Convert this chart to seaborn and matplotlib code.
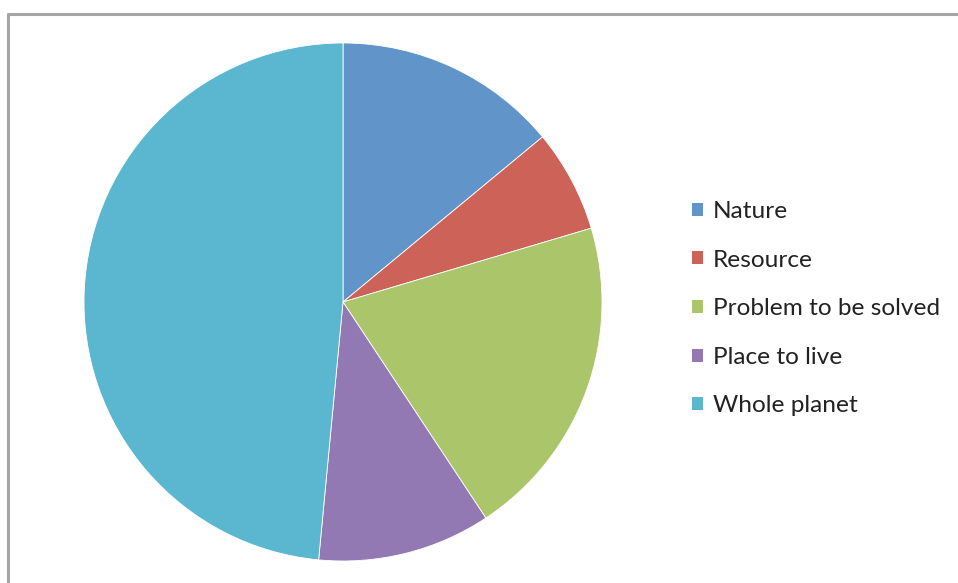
import matplotlib
matplotlib.use("Agg")
import matplotlib.pyplot as plt
import seaborn as sns
from matplotlib.patches import Patch
from matplotlib.lines import Line2D

categories = ["Nature", "Resource", "Problem to be solved", "Place to live", "Whole planet"]
values = [14.0, 6.4, 20.3, 10.8, 48.5]
colors = ["#6195CA", "#CD6259", "#ABC56A", "#9379B3", "#5BB7CF"]

sns.set_theme(style="white")
plt.rcParams['font.family'] = ['Lato', 'DejaVu Sans']

W, H = 958, 583
fig = plt.figure(figsize=(W / 100, H / 100), dpi=100)
fig.patch.set_facecolor("white")

cx, cy, r = 343, 302, 259
ax = fig.add_axes([(cx - r) / W, (H - cy - r) / H, 2 * r / W, 2 * r / H])
ax.pie(values, colors=colors, startangle=90, counterclock=False,
       wedgeprops=dict(edgecolor="white", linewidth=0.6))
ax.set_xlim(-1, 1)
ax.set_ylim(-1, 1)
ax.set_aspect("equal")
ax.axis("off")

# chart border (top and left visible)
fig.add_artist(Line2D([8 / W, 1.0], [1 - 14 / H, 1 - 14 / H], color="#A6A6A6", lw=2.2, transform=fig.transFigure))
fig.add_artist(Line2D([8 / W, 8 / W], [0, 1 - 14 / H], color="#A6A6A6", lw=2.2, transform=fig.transFigure))

handles = [Patch(facecolor=c, edgecolor="none") for c in colors]
leg = fig.legend(handles, categories, loc="upper left",
                 bbox_to_anchor=(692 / W, 1 - 201 / H),
                 frameon=False, fontsize=17.6, handlelength=0.45, handleheight=0.45,
                 handletextpad=0.4, labelspacing=1.13, borderaxespad=0, borderpad=0)
for t in leg.get_texts():
    t.set_color("#222222")

fig.savefig("out.png", dpi=100, facecolor="white")
